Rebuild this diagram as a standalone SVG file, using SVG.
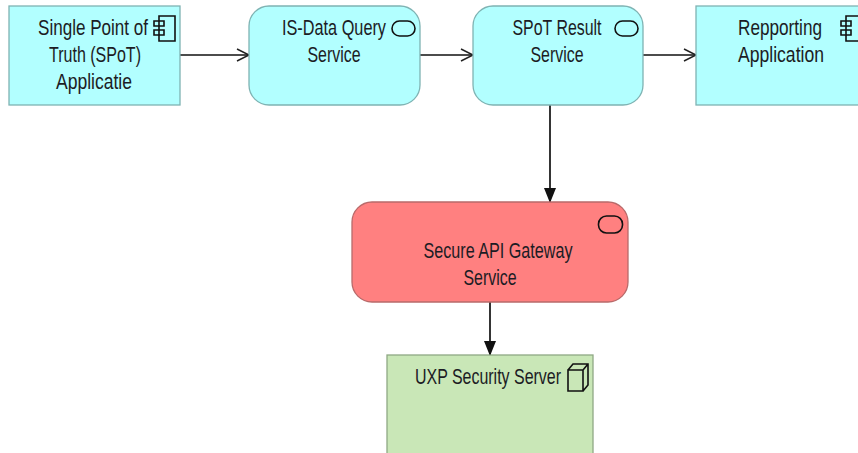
<svg xmlns="http://www.w3.org/2000/svg" width="858" height="453" viewBox="0 0 858 453">
<style>
text{font-family:"Liberation Sans",Arial,sans-serif;font-size:22px;fill:#1c1c24;text-anchor:middle}
.cy{fill:#b2ffff;stroke:#7fb3b3;stroke-width:1.3}
.rd{fill:#ff8080;stroke:#b86a6a;stroke-width:1.3}
.gr{fill:#c9e7b7;stroke:#8fa884;stroke-width:1.3}
.ic{fill:none;stroke:#111;stroke-width:1.6}
.c{fill:none;stroke:#111;stroke-width:1.7}
</style>
<defs>
<marker id="open" markerUnits="userSpaceOnUse" markerWidth="16" markerHeight="16" refX="13" refY="8" orient="auto"><path d="M1 2L13 8L1 14" fill="none" stroke="#222" stroke-width="1.5"/></marker>
<marker id="solid" markerUnits="userSpaceOnUse" markerWidth="16" markerHeight="14" refX="15" refY="7" orient="auto"><path d="M0 1L15 7L0 13Z" fill="#111"/></marker>
<g id="comp"><path class="ic" d="M5 0H21V25H5ZM0 5H10V10H0ZM0 14H10V19H0Z"/></g>
<rect id="svc" class="ic" x="0" y="0" width="23" height="15" rx="7.500"/>
</defs>
<g id="connectors">
<path class="c" d="M180 55H249" marker-end="url(#open)"/>
<path class="c" d="M420 55H473" marker-end="url(#open)"/>
<path class="c" d="M643 55H696" marker-end="url(#open)"/>
<path class="c" d="M550 105V203" marker-end="url(#solid)"/>
<path class="c" d="M490 301V356" marker-end="url(#solid)"/>
</g>
<g id="spot-app"><rect class="cy" x="9" y="6" width="171" height="99"/>
<use href="#comp" x="154" y="16"/>
<text x="93" y="35" textLength="110" lengthAdjust="spacingAndGlyphs">Single Point of</text>
<text x="95" y="62" textLength="92" lengthAdjust="spacingAndGlyphs">Truth (SPoT)</text>
<text x="94" y="89" textLength="76" lengthAdjust="spacingAndGlyphs">Applicatie</text></g>
<g id="is-data"><rect class="cy" x="249" y="6" width="171" height="99" rx="20"/>
<use href="#svc" x="392" y="21"/>
<text x="334" y="35" textLength="104" lengthAdjust="spacingAndGlyphs">IS-Data Query</text>
<text x="334" y="62" textLength="53" lengthAdjust="spacingAndGlyphs">Service</text></g>
<g id="spot-result"><rect class="cy" x="473" y="6" width="170" height="99" rx="20"/>
<use href="#svc" x="615" y="21"/>
<text x="557" y="35" textLength="89" lengthAdjust="spacingAndGlyphs">SPoT Result</text>
<text x="557" y="62" textLength="53" lengthAdjust="spacingAndGlyphs">Service</text></g>
<g id="reporting"><rect class="cy" x="696" y="6" width="170" height="99"/>
<use href="#comp" x="841" y="16"/>
<text x="780" y="35" textLength="84" lengthAdjust="spacingAndGlyphs">Repporting</text>
<text x="781" y="62" textLength="86" lengthAdjust="spacingAndGlyphs">Application</text></g>
<g id="gateway"><rect class="rd" x="352" y="202" width="276" height="100" rx="20"/>
<rect class="ic" x="598.500" y="216" width="24" height="17" rx="8"/>
<text x="498" y="258" textLength="149" lengthAdjust="spacingAndGlyphs">Secure API Gateway</text>
<text x="490" y="285" textLength="53" lengthAdjust="spacingAndGlyphs">Service</text></g>
<g id="uxp"><rect class="gr" x="387" y="355" width="206" height="110"/>
<path class="ic" d="M568 370H583V391H568ZM568 370L573 364H588V385L583 391M583 370L588 364"/>
<text x="488" y="384" textLength="146" lengthAdjust="spacingAndGlyphs">UXP Security Server</text></g>
</svg>
